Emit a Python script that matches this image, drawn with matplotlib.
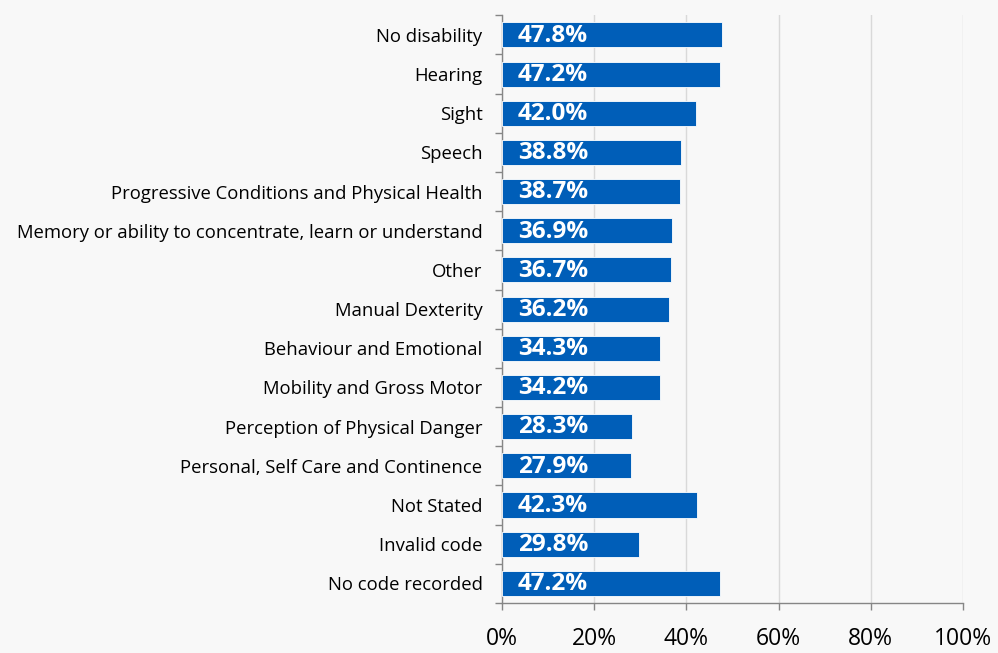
import matplotlib
matplotlib.use('Agg')
import matplotlib.pyplot as plt
import numpy as np

# data, top to bottom as shown
categories = [
    "No disability",
    "Hearing",
    "Sight",
    "Speech",
    "Progressive Conditions and Physical Health",
    "Memory or ability to concentrate, learn or understand",
    "Other",
    "Manual Dexterity",
    "Behaviour and Emotional",
    "Mobility and Gross Motor",
    "Perception of Physical Danger",
    "Personal, Self Care and Continence",
    "Not Stated",
    "Invalid code",
    "No code recorded",
]
values = [47.8, 47.2, 42.0, 38.8, 38.7, 36.9, 36.7, 36.2, 34.3, 34.2, 28.3, 27.9, 42.3, 29.8, 47.2]
x_ticks = [0, 20, 40, 60, 80, 100]

BG = "#F8F8F8"
BAR = "#005EB8"
AXIS = "#868686"
GRID = "#D9D9D9"

plt.rcParams['font.family'] = ['Open Sans', 'DejaVu Sans']

fig = plt.figure(figsize=(9.98, 6.53), dpi=100)
fig.patch.set_facecolor(BG)
ax = fig.add_axes([0.503, 0.0766, 0.462, 0.9])
ax.set_facecolor(BG)

n = len(categories)
y = np.arange(n)
ax.barh(y, values, height=0.64, color=BAR, edgecolor="white", linewidth=0.6, zorder=3)

# white value labels inside the bars
for yi, v in zip(y, values):
    ax.text(3.4, yi + 0.02, f"{v:.1f}%", color="white", fontsize=17.5, fontweight="bold",
            va="center", ha="left", zorder=4)

ax.set_xlim(0, 100)
ax.set_ylim(n - 0.5, -0.5)
ax.set_xticks(x_ticks)
ax.set_xticklabels([f"{t}%" for t in x_ticks], fontsize=16.5)
ax.set_yticks(y)
ax.set_yticklabels(categories, fontsize=13.3)
ax.set_yticks(np.arange(n + 1) - 0.5, minor=True)

ax.tick_params(axis='y', which='major', length=0, pad=14)
ax.tick_params(axis='y', which='minor', length=5, color=AXIS, width=1)
ax.tick_params(axis='x', length=5, color=AXIS, width=1, pad=12)

ax.grid(axis='x', color=GRID, linewidth=1, zorder=0)
for s in ["top", "right"]:
    ax.spines[s].set_visible(False)
for s in ["left", "bottom"]:
    ax.spines[s].set_color(AXIS)
    ax.spines[s].set_linewidth(1)

fig.savefig("out.png", dpi=100, facecolor=BG)
